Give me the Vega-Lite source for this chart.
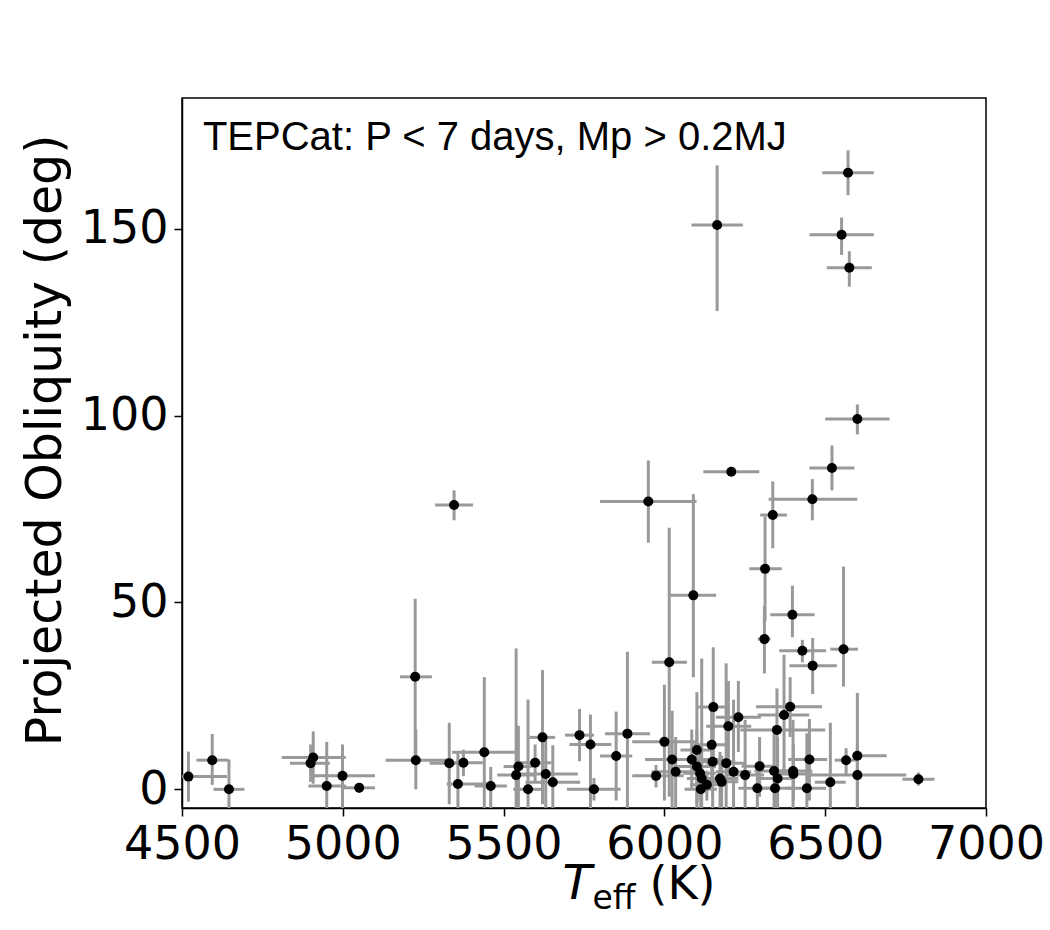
{
  "$schema": "https://vega.github.io/schema/vega-lite/v6.json",
  "autosize": {"type": "none"},
  "padding": {"left": 182, "top": 98, "right": 64, "bottom": 122},
  "width": 804,
  "height": 710,
  "background": "white",
  "config": {
    "view": {"stroke": "black", "strokeWidth": 1.5},
    "axis": {
      "grid": false,
      "domainColor": "black",
      "domainWidth": 1.5,
      "tickColor": "black",
      "tickWidth": 1.5,
      "tickSize": 8,
      "labelFont": "DejaVu Sans",
      "labelFontSize": 46,
      "labelColor": "black",
      "labelOverlap": false,
      "labelFlush": false,
      "titleFont": "DejaVu Sans",
      "titleFontWeight": "normal",
      "titleColor": "black"
    }
  },
  "data": {"values": [
    {"t": 6164, "t1": 6084, "t2": 6244, "o": 151, "o1": 128, "o2": 167},
    {"t": 6571, "t1": 6491, "t2": 6651, "o": 165, "o1": 159, "o2": 171},
    {"t": 6551, "t1": 6451, "t2": 6651, "o": 148.4, "o1": 143, "o2": 153},
    {"t": 6575, "t1": 6505, "t2": 6645, "o": 139.6, "o1": 134.5, "o2": 144},
    {"t": 6600, "t1": 6500, "t2": 6700, "o": 99.1, "o1": 95, "o2": 103},
    {"t": 5950, "t1": 5800, "t2": 6100, "o": 77, "o1": 66, "o2": 88},
    {"t": 6208, "t1": 6121, "t2": 6295, "o": 85, "o1": 84, "o2": 86},
    {"t": 6521, "t1": 6451, "t2": 6591, "o": 86, "o1": 80, "o2": 92},
    {"t": 6460, "t1": 6324, "t2": 6600, "o": 77.6, "o1": 72, "o2": 83},
    {"t": 6337, "t1": 6298, "t2": 6381, "o": 73.4, "o1": 64.5, "o2": 82.4},
    {"t": 6090, "t1": 6018, "t2": 6161, "o": 51.9, "o1": 30, "o2": 79},
    {"t": 6015, "t1": 5961, "t2": 6070, "o": 34, "o1": -2, "o2": 70},
    {"t": 6313, "t1": 6264, "t2": 6365, "o": 59, "o1": 45, "o2": 73},
    {"t": 6311, "t1": 6290, "t2": 6330, "o": 40.2, "o1": 31, "o2": 49},
    {"t": 6398, "t1": 6329, "t2": 6467, "o": 46.7, "o1": 40.7, "o2": 54.5},
    {"t": 6429, "t1": 6357, "t2": 6503, "o": 37.1, "o1": 34, "o2": 40},
    {"t": 6461, "t1": 6389, "t2": 6536, "o": 33.1, "o1": 25.5, "o2": 40.5},
    {"t": 6557, "t1": 6516, "t2": 6602, "o": 37.5, "o1": 27.5, "o2": 59.6},
    {"t": 5346, "t1": 5287, "t2": 5405, "o": 76.1, "o1": 72, "o2": 80},
    {"t": 5225, "t1": 5178, "t2": 5277, "o": 30.1, "o1": 9, "o2": 51},
    {"t": 5227, "t1": 5133, "t2": 5327, "o": 7.8, "o1": 0, "o2": 16},
    {"t": 4520, "t1": 4400, "t2": 4640, "o": 3.4, "o1": -3.3, "o2": 10.1},
    {"t": 4594, "t1": 4545, "t2": 4643, "o": 7.8, "o1": 1.2, "o2": 14.8},
    {"t": 4646, "t1": 4598, "t2": 4694, "o": 0, "o1": -8, "o2": 8},
    {"t": 4908, "t1": 4810, "t2": 5009, "o": 8.5, "o1": 1.5, "o2": 15.5},
    {"t": 4900, "t1": 4836, "t2": 4960, "o": 7, "o1": 2, "o2": 12},
    {"t": 4950, "t1": 4893, "t2": 5010, "o": 0.9, "o1": -11, "o2": 12.7},
    {"t": 4999, "t1": 4900, "t2": 5100, "o": 3.6, "o1": -8, "o2": 12},
    {"t": 5051, "t1": 5002, "t2": 5100, "o": 0.4, "o1": -1, "o2": 1.5},
    {"t": 5331, "t1": 5270, "t2": 5390, "o": 7, "o1": -4, "o2": 17.8},
    {"t": 5375, "t1": 5315, "t2": 5435, "o": 7.1, "o1": 3.5, "o2": 10.6},
    {"t": 5358, "t1": 5323, "t2": 5458, "o": 1.4, "o1": -9, "o2": 10},
    {"t": 5440, "t1": 5340, "t2": 5540, "o": 9.9, "o1": -10, "o2": 30},
    {"t": 5460, "t1": 5410, "t2": 5510, "o": 0.9, "o1": -5, "o2": 6},
    {"t": 5539, "t1": 5480, "t2": 5600, "o": 3.8, "o1": -30, "o2": 37.7},
    {"t": 5546, "t1": 5500, "t2": 5590, "o": 6.1, "o1": -5, "o2": 17},
    {"t": 5576, "t1": 5530, "t2": 5620, "o": 0, "o1": -24, "o2": 24},
    {"t": 5598, "t1": 5548, "t2": 5648, "o": 7.1, "o1": 2, "o2": 12},
    {"t": 5621, "t1": 5580, "t2": 5660, "o": 13.9, "o1": -4, "o2": 31.9},
    {"t": 5631, "t1": 5531, "t2": 5731, "o": 4.1, "o1": -5, "o2": 13},
    {"t": 5653, "t1": 5568, "t2": 5738, "o": 1.9, "o1": -8, "o2": 11.8},
    {"t": 5736, "t1": 5691, "t2": 5781, "o": 14.5, "o1": 7.5, "o2": 21.5},
    {"t": 5770, "t1": 5705, "t2": 5835, "o": 12, "o1": -5, "o2": 20},
    {"t": 5781, "t1": 5697, "t2": 5864, "o": 0, "o1": -3, "o2": 3},
    {"t": 5850, "t1": 5800, "t2": 5900, "o": 8.9, "o1": -3, "o2": 20.8},
    {"t": 5885, "t1": 5815, "t2": 5955, "o": 14.9, "o1": -7, "o2": 36.8},
    {"t": 5974, "t1": 5900, "t2": 6060, "o": 3.6, "o1": 0.5, "o2": 6.5},
    {"t": 6000, "t1": 5900, "t2": 6100, "o": 12.7, "o1": -3, "o2": 28},
    {"t": 6024, "t1": 5940, "t2": 6110, "o": 8, "o1": -5, "o2": 21},
    {"t": 6035, "t1": 5960, "t2": 6110, "o": 4.7, "o1": -5, "o2": 14},
    {"t": 6101, "t1": 6050, "t2": 6150, "o": 10.5, "o1": -5, "o2": 26},
    {"t": 6085, "t1": 6000, "t2": 6170, "o": 8, "o1": 0, "o2": 16},
    {"t": 6101, "t1": 6040, "t2": 6160, "o": 6.1, "o1": -4, "o2": 16},
    {"t": 6111, "t1": 6060, "t2": 6160, "o": 4.3, "o1": -3, "o2": 12},
    {"t": 6116, "t1": 6070, "t2": 6160, "o": 2.9, "o1": -5, "o2": 35},
    {"t": 6132, "t1": 6080, "t2": 6180, "o": 1.2, "o1": -3, "o2": 5},
    {"t": 6113, "t1": 6063, "t2": 6163, "o": 0, "o1": -5, "o2": 5},
    {"t": 6147, "t1": 6090, "t2": 6200, "o": 11.9, "o1": 2, "o2": 22},
    {"t": 6152, "t1": 6100, "t2": 6200, "o": 22, "o1": 6, "o2": 38},
    {"t": 6150, "t1": 6080, "t2": 6220, "o": 7.4, "o1": -5, "o2": 20},
    {"t": 6173, "t1": 6120, "t2": 6230, "o": 2.9, "o1": -5, "o2": 10},
    {"t": 6178, "t1": 6130, "t2": 6230, "o": 2, "o1": -5, "o2": 9},
    {"t": 6192, "t1": 6130, "t2": 6250, "o": 7, "o1": -5, "o2": 33.7},
    {"t": 6199, "t1": 6130, "t2": 6270, "o": 16.9, "o1": 5, "o2": 29},
    {"t": 6230, "t1": 6160, "t2": 6300, "o": 19.3, "o1": 10, "o2": 29},
    {"t": 6215, "t1": 6160, "t2": 6270, "o": 4.7, "o1": -5, "o2": 24},
    {"t": 6251, "t1": 6190, "t2": 6310, "o": 3.8, "o1": -5, "o2": 18.6},
    {"t": 6296, "t1": 6240, "t2": 6350, "o": 6.2, "o1": -2, "o2": 14},
    {"t": 6289, "t1": 6230, "t2": 6350, "o": 0.3, "o1": -5, "o2": 6},
    {"t": 6341, "t1": 6280, "t2": 6400, "o": 4.9, "o1": -5, "o2": 15},
    {"t": 6350, "t1": 6236, "t2": 6500, "o": 15.9, "o1": 5, "o2": 27},
    {"t": 6352, "t1": 6300, "t2": 6400, "o": 2.9, "o1": -5, "o2": 14},
    {"t": 6344, "t1": 6290, "t2": 6400, "o": 0.3, "o1": -5, "o2": 6},
    {"t": 6372, "t1": 6290, "t2": 6450, "o": 19.9, "o1": 4, "o2": 36},
    {"t": 6391, "t1": 6285, "t2": 6490, "o": 22.1, "o1": 14, "o2": 30},
    {"t": 6400, "t1": 6340, "t2": 6460, "o": 4.9, "o1": -5, "o2": 18.6},
    {"t": 6401, "t1": 6340, "t2": 6460, "o": 4.1, "o1": -3, "o2": 12},
    {"t": 6443, "t1": 6380, "t2": 6503, "o": 0.3, "o1": -5, "o2": 15},
    {"t": 6451, "t1": 6385, "t2": 6506, "o": 8, "o1": -3, "o2": 18.8},
    {"t": 6516, "t1": 6468, "t2": 6564, "o": 1.9, "o1": -5, "o2": 17.8},
    {"t": 6565, "t1": 6530, "t2": 6600, "o": 7.8, "o1": 4, "o2": 11},
    {"t": 6600, "t1": 6583, "t2": 6691, "o": 9, "o1": -5, "o2": 25.8},
    {"t": 6600, "t1": 6440, "t2": 6752, "o": 3.8, "o1": -5, "o2": 12},
    {"t": 6790, "t1": 6740, "t2": 6840, "o": 2.7, "o1": 1, "o2": 4.5}
  ]},
  "resolve": {"axis": {"x": "independent", "y": "independent"}},
  "layer": [
    {
      "mark": {"type": "rule", "color": "#999999", "strokeWidth": 3, "clip": true},
      "encoding": {
        "x": {"field": "t1", "type": "quantitative",
              "scale": {"domain": [4500, 7000], "nice": false, "zero": false},
              "axis": {"orient": "bottom", "values": [4500, 5000, 5500, 6000, 6500, 7000], "format": "d", "labelPadding": 6,
                       "title": "T", "titleFontSize": 48, "titleFontStyle": "italic",
                       "titleAlign": "left", "titleBaseline": "alphabetic",
                       "titleX": 380, "titleY": 90}},
        "x2": {"field": "t2"},
        "y": {"field": "o", "type": "quantitative",
              "scale": {"domain": [-5, 185], "nice": false, "zero": false},
              "axis": {"orient": "left", "values": [0, 50, 100, 150], "labelPadding": 6,
                       "title": "Projected Obliquity (deg)", "titleFontSize": 49,
                       "titleAngle": -90, "titleAlign": "center", "titleBaseline": "middle",
                       "titleX": -137, "titleY": 342}}
      }
    },
    {
      "mark": {"type": "rule", "color": "#999999", "strokeWidth": 3, "clip": true},
      "encoding": {
        "x": {"field": "t", "type": "quantitative",
              "axis": {"orient": "bottom", "labels": false, "ticks": false, "domain": false,
                       "title": "eff", "titleFontSize": 33,
                       "titleAlign": "left", "titleBaseline": "alphabetic",
                       "titleX": 410, "titleY": 100}},
        "y": {"field": "o1", "type": "quantitative", "axis": null},
        "y2": {"field": "o2"}
      }
    },
    {
      "mark": {"type": "circle", "color": "black", "opacity": 1, "size": 100, "clip": true},
      "encoding": {
        "x": {"field": "t", "type": "quantitative",
              "axis": {"orient": "bottom", "labels": false, "ticks": false, "domain": false,
                       "title": "(K)", "titleFontSize": 46,
                       "titleAlign": "left", "titleBaseline": "alphabetic",
                       "titleX": 467, "titleY": 90}},
        "y": {"field": "o", "type": "quantitative", "axis": null}
      }
    },
    {
      "data": {"values": [{"t": 4565, "o": 171, "label": "TEPCat: P < 7 days, Mp > 0.2MJ"}]},
      "mark": {"type": "text", "font": "Liberation Sans", "fontSize": 40, "align": "left", "baseline": "alphabetic", "color": "black"},
      "encoding": {
        "x": {"field": "t", "type": "quantitative", "axis": null},
        "y": {"field": "o", "type": "quantitative", "axis": null},
        "text": {"field": "label"}
      }
    }
  ]
}
